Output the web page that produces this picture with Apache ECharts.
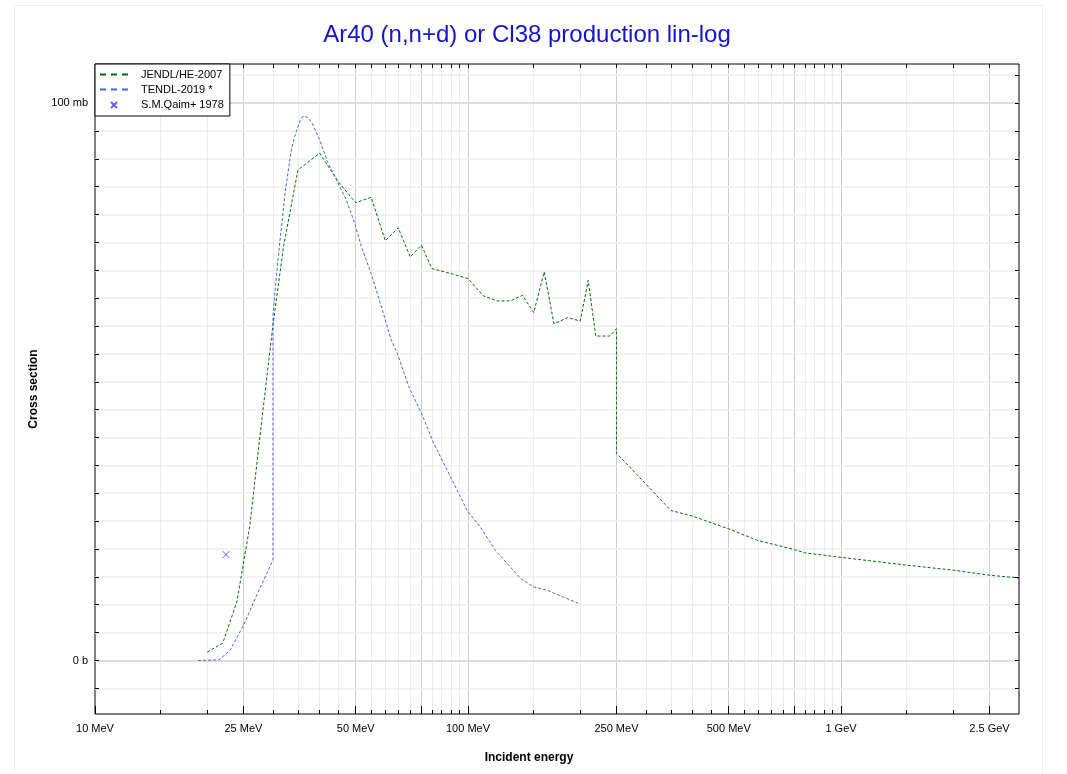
<!DOCTYPE html>
<html><head><meta charset="utf-8">
<script src="https://cdn.jsdelivr.net/npm/echarts@6/dist/echarts.min.js"></script>
<style>html,body{margin:0;padding:0;background:#fff}#c{width:1067px;height:774px}</style>
</head><body><div id="c"></div>
<script>
// ---- data (MeV, mb) ----
const jendlE  = [20, 22, 24, 26, 28, 30, 32, 35, 40, 45, 50, 55, 60, 65, 70, 75, 80, 90, 100, 110, 120, 130, 140, 150, 160, 170, 185, 200, 210, 220, 240, 250, 250, 350, 400, 500, 600, 750, 800, 1000, 1500, 2000, 2500, 3000];
const jendlXS = [1.5, 3.1, 10.5, 24.1, 43.1, 60.2, 74.1, 88, 91, 85.8, 82.1, 83.1, 75.3, 77.6, 72.4, 74.5, 70.3, 69.4, 68.5, 65.4, 64.5, 64.5, 65.5, 62.4, 69.7, 60.4, 61.5, 60.9, 68.2, 58.2, 58.2, 59.5, 37.2, 26.9, 25.9, 23.6, 21.5, 19.9, 19.3, 18.5, 17.1, 16.2, 15.3, 14.8];
const tendlE  = [18.9, 21.5, 23, 25, 27, 30, 30, 30.6, 31.2, 32.4, 33.6, 34.3, 35.5, 36.2, 37.2, 38.2, 40, 42, 44.4, 47.2, 49.7, 51.8, 55, 59, 62, 64.6, 69.4, 75.4, 81, 88, 99.5, 108, 118.6, 127.4, 138.4, 150, 163, 180, 200];
const tendlXS = [0, 0.1, 1.8, 6.3, 11.4, 18, 62, 68.5, 74.2, 84.4, 91.6, 94.0, 96.9, 97.7, 97.4, 96.4, 93.4, 89.5, 86.2, 82.6, 78.4, 74.2, 69.4, 62.8, 57.8, 55.1, 49.1, 44.0, 38.9, 34.1, 26.9, 23.9, 19.7, 17.4, 14.7, 13.2, 12.6, 11.4, 10.1];
const qaimE  = [22.45];
const qaimXS = [19.0];

const seriesNames = ['JENDL/HE-2007', 'TENDL-2019 *', 'S.M.Qaim+ 1978'];
const xTickValues = [10, 25, 50, 100, 250, 500, 1000, 2500];
const xTickLabels = ['10 MeV', '25 MeV', '50 MeV', '100 MeV', '250 MeV', '500 MeV', '1 GeV', '2.5 GeV'];
const xMajorGrid = [25, 50, 75, 100, 250, 500, 750, 1000, 2500];
const xMinorGrid = [15, 20, 30, 35, 40, 45, 55, 60, 65, 70, 80, 85, 90, 95, 150, 200, 300, 350, 400, 450, 550, 600, 650, 700, 800, 850, 900, 950, 1500, 2000];
const yGridValues = [-5, 0, 5, 10, 15, 20, 25, 30, 35, 40, 45, 50, 55, 60, 65, 70, 75, 80, 85, 90, 95, 100, 105];
const yMajorGrid = [0, 100];
const yLabelValues = [0, 100];
const yLabelTexts = ['0 b', '100 mb'];

const FONT = 'Liberation Sans, Arial, sans-serif';
const DASH_ICON = 'path://M0,0h6v2h-6z M11,0h6v2h-6z M22,0h6v2h-6z';
const CROSS_ICON = 'path://M0,0M10,10M2,2L8,8M2,8L8,2';

function xLabel(v) {
  for (let i = 0; i < xTickValues.length; i++) {
    if (Math.abs(Math.log10(v / xTickValues[i])) < 0.01) return xTickLabels[i];
  }
  return '';
}
function yLabel(v) {
  for (let i = 0; i < yLabelValues.length; i++) {
    if (Math.abs(v - yLabelValues[i]) < 0.01) return yLabelTexts[i];
  }
  return '';
}

function xAxisDef(position, ticks, len, withLabels) {
  return {
    type: 'log', logBase: 10, min: 10, max: 3000, position: position, z: 6,
    axisLine: { show: false, onZero: false },
    splitLine: { show: false },
    minorTick: { show: false },
    axisTick: { show: true, inside: true, length: len, customValues: ticks, lineStyle: { color: '#000', width: 1 } },
    axisLabel: withLabels ? { show: true, customValues: xTickValues, formatter: xLabel, color: '#000', fontSize: 11, fontFamily: FONT, margin: 9 } : { show: false }
  };
}
function yAxisDef(position, withLabels) {
  return {
    type: 'value', min: -9.6, max: 107, position: position, z: 6,
    axisLine: { show: false, onZero: false },
    splitLine: { show: false },
    axisTick: { show: true, inside: true, length: 4, customValues: yGridValues, lineStyle: { color: '#000', width: 1 } },
    axisLabel: withLabels ? { show: true, customValues: yLabelValues, formatter: yLabel, color: '#000', fontSize: 11, fontFamily: FONT, margin: 7 } : { show: false }
  };
}

const gridLines = [];
xMinorGrid.forEach(v => gridLines.push({ xAxis: v, lineStyle: { color: '#ececec', width: 1, type: 'solid' } }));
xMajorGrid.forEach(v => gridLines.push({ xAxis: v, lineStyle: { color: '#cccccc', width: 1, type: 'solid' } }));
yGridValues.forEach(v => {
  const major = yMajorGrid.indexOf(v) >= 0;
  gridLines.push({ yAxis: v, lineStyle: { color: major ? '#dcdcdc' : '#efefef', width: major ? 2 : 1.5, type: 'solid' } });
});

const chart = echarts.init(document.getElementById('c'), null, { renderer: 'canvas' });
chart.setOption({
  animation: false,
  backgroundColor: '#fff',
  grid: { left: 95, right: 48, top: 64, bottom: 60, show: true, borderColor: '#000', borderWidth: 1, backgroundColor: 'transparent', z: 0 },
  legend: {
    data: [
      { name: seriesNames[0], icon: DASH_ICON },
      { name: seriesNames[1], icon: DASH_ICON },
      { name: seriesNames[2], icon: CROSS_ICON }
    ],
    orient: 'vertical', left: 95, top: 64, z: 10,
    padding: [5, 6, 5, 5],
    itemWidth: 28, itemHeight: 10, itemGap: 4,
    backgroundColor: '#fff', borderColor: '#000', borderWidth: 1, borderRadius: 0,
    textStyle: { fontSize: 11, fontFamily: FONT, color: '#000', padding: [0, 0, 0, 8] }
  },
  xAxis: [
    xAxisDef('bottom', xTickValues.concat(xMajorGrid), 8, true),
    xAxisDef('bottom', xMinorGrid, 4, false),
    xAxisDef('top', xMajorGrid.concat(xMinorGrid), 4, false)
  ],
  yAxis: [
    yAxisDef('left', true),
    yAxisDef('right', false)
  ],
  graphic: [
    { type: 'rect', shape: { x: 14.5, y: 5.5, width: 1028, height: 820 }, style: { fill: 'none', stroke: '#eeeeee', lineWidth: 1 }, silent: true, z: -10 },
    { type: 'text', x: 527, y: 35, style: { text: 'Ar40 (n,n+d) or Cl38 production lin-log', fontSize: 24, fontFamily: FONT, fill: '#1414c8', align: 'center', verticalAlign: 'middle' } },
    { type: 'text', x: 529, y: 758, style: { text: 'Incident energy', fontSize: 12, fontWeight: 'bold', fontFamily: FONT, fill: '#000', align: 'center', verticalAlign: 'middle' } },
    { type: 'text', x: 34, y: 389, rotation: Math.PI / 2, style: { text: 'Cross section', fontSize: 12, fontWeight: 'bold', fontFamily: FONT, fill: '#000', align: 'center', verticalAlign: 'middle' } }
  ],
  series: [
    {
      name: 'grid', type: 'line', data: [], xAxisIndex: 0, yAxisIndex: 0, z: 1, silent: true,
      markLine: { z: 1, silent: true, symbol: ['none', 'none'], label: { show: false }, animation: false, data: gridLines }
    },
    {
      name: seriesNames[0], type: 'line', xAxisIndex: 0, yAxisIndex: 0, z: 3,
      data: jendlE.map((e, i) => [e, jendlXS[i]]),
      symbol: 'none', color: '#006f00',
      lineStyle: { color: '#006f00', width: 1, type: [3, 2] }
    },
    {
      name: seriesNames[1], type: 'line', xAxisIndex: 0, yAxisIndex: 0, z: 3,
      data: tendlE.map((e, i) => [e, tendlXS[i]]),
      symbol: 'none', color: '#4169e1',
      lineStyle: { color: '#4169e1', width: 1, type: [3, 2] }
    },
    {
      name: seriesNames[2], type: 'scatter', xAxisIndex: 0, yAxisIndex: 0, z: 4,
      data: qaimE.map((e, i) => [e, qaimXS[i]]),
      symbol: 'path://M0,0L10,10M0,10L10,0', symbolSize: 7,
      itemStyle: { color: 'rgba(0,0,0,0)', borderColor: '#3a3aff', borderWidth: 1 }
    }
  ]
});
</script>
</body></html>
